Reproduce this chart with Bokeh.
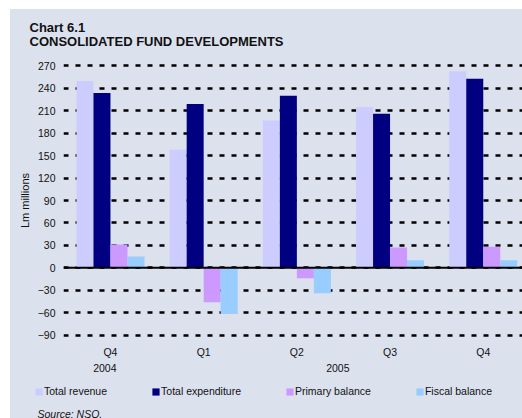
from bokeh.plotting import figure
from bokeh.models import (ColumnDataSource, Range1d, FixedTicker, Span, Title,
                          Legend, LegendItem, LinearAxis, Label)
from bokeh.transform import dodge
from bokeh.embed import file_html
from bokeh.resources import INLINE

# ---- data ----
quarters = ["Q4", "Q1", "Q2", "Q3", "Q4"]
years = ["2004", "2005"]
year_of_quarter = ["2004", "2005", "2005", "2005", "2005"]
total_revenue = [250, 158, 197, 215, 263]
total_expenditure = [234, 219, 230, 206, 253]
primary_balance = [31, -46, -14, 27, 28]
fiscal_balance = [15, -62, -34, 10, 10]
y_ticks = [-90, -60, -30, 0, 30, 60, 90, 120, 150, 180, 210, 240, 270]

series_names = ["Total revenue", "Total expenditure", "Primary balance", "Fiscal balance"]
series_cols = ["rev", "exp", "prim", "fisc"]
series_colors = ["#CCCCFF", "#000080", "#CC99FF", "#99CCFF"]

BG = "#DCE1EE"
FONT = "Liberation Sans"
TXT = "#111111"

idx = list(range(len(quarters)))
src = ColumnDataSource(dict(x=idx, rev=total_revenue, exp=total_expenditure,
                            prim=primary_balance, fisc=fiscal_balance))

# ---------------- main chart ----------------
p = figure(width=522, height=382, output_backend="svg", toolbar_location=None,
           x_range=Range1d(-0.504, 4.421), y_range=Range1d(-100, 280),
           min_border_left=63, min_border_right=0, min_border_top=58,
           min_border_bottom=40)
p.background_fill_color = BG
p.border_fill_color = BG
p.outline_line_color = None

bw = 0.1824
offsets = [-1.5 * bw, -0.5 * bw, 0.5 * bw, 1.5 * bw]
for col, color, off in zip(series_cols, series_colors, offsets):
    p.vbar(x=dodge("x", off), top=col, bottom=0, width=bw, source=src,
           fill_color=color, line_color=None)

p.add_layout(Span(location=0, dimension="width", line_color="black", line_width=2))

# axes
p.xaxis.ticker = FixedTicker(ticks=idx)
p.xaxis.major_label_overrides = {i: q for i, q in zip(idx, quarters)}
p.yaxis.ticker = FixedTicker(ticks=y_ticks)

# year axis under the quarter axis
year_pos = []
for yr in years:
    pos = [i for i, y in zip(idx, year_of_quarter) if y == yr]
    year_pos.append(round(sum(pos) / len(pos) - 0.06, 3))
year_axis = LinearAxis(ticker=FixedTicker(ticks=year_pos),
                       major_label_overrides={v: yr for v, yr in zip(year_pos, years)})
p.add_layout(year_axis, "below")

for ax in (p.xaxis[0], year_axis, p.yaxis[0]):
    ax.axis_line_color = None
    ax.major_tick_line_color = None
    ax.minor_tick_line_color = None
    ax.major_tick_out = 0
    ax.major_tick_in = 0
    ax.major_label_text_font = FONT
    ax.major_label_text_font_size = "10.5px"
    ax.major_label_text_color = TXT
p.xaxis[0].major_label_standoff = 3
year_axis.major_label_standoff = 3
p.yaxis.major_label_standoff = 8
p.yaxis.axis_label = "Lm millions"
p.yaxis.axis_label_text_font = FONT
p.yaxis.axis_label_text_font_size = "11px"
p.yaxis.axis_label_text_font_style = "normal"
p.yaxis.axis_label_text_color = TXT
p.yaxis.axis_label_standoff = 4

p.xgrid.grid_line_color = None
p.ygrid.grid_line_color = "black"
p.ygrid.grid_line_width = 2.6
p.ygrid.grid_line_dash = "5 7"

p.add_layout(Title(text="Chart 6.1\nCONSOLIDATED FUND DEVELOPMENTS", align="left",
                   offset=-34, standoff=20, text_font=FONT, text_font_size="13px",
                   text_font_style="bold", text_color=TXT, text_line_height=0.9),
             "above")

# ---------------- legend + source strip ----------------
p2 = figure(width=522, height=36, output_backend="svg", toolbar_location=None,
            x_range=Range1d(0, 1), y_range=Range1d(0, 1),
            x_axis_type=None, y_axis_type=None, min_border=0)
p2.background_fill_color = BG
p2.border_fill_color = BG
p2.outline_line_color = None
p2.grid.grid_line_color = None

legend_renderers = []
for col, color, off in zip(series_cols, series_colors, offsets):
    r = p2.vbar(x=dodge("x", off), top=col, bottom=0, width=bw, source=src,
                fill_color=color, line_color=None, visible=False)
    legend_renderers.append(r)

legend = Legend(items=[LegendItem(label=n, renderers=[r])
                       for n, r in zip(series_names, legend_renderers)],
                orientation="horizontal", location=(34, 21),
                glyph_width=9, glyph_height=9, label_height=9,
                label_standoff=1, spacing=44, padding=0, margin=0,
                border_line_color=None, background_fill_alpha=0,
                inactive_fill_alpha=0,
                label_text_font=FONT, label_text_font_size="10.5px",
                label_text_color=TXT)
p2.add_layout(legend, "center")

p2.add_layout(Label(x=37, y=5, x_units="screen", y_units="screen",
                    text="Source: NSO.", text_font=FONT, text_font_size="10.5px",
                    text_font_style="italic", text_baseline="alphabetic",
                    text_color=TXT))

# stack the two roots without a gap; thin white page edge as in the original
page_template = """
{% block postamble %}
<style>
html, body { margin: 0; padding: 0; line-height: 0; font-size: 0; background: #DCE1EE; }
body > * { vertical-align: top; }
body::before { content: ""; position: fixed; left: 0; top: 0; width: 100%; height: 9px;
               background: #FFFFFF; z-index: 100; pointer-events: none; }
body::after { content: ""; position: fixed; left: 0; top: 0; width: 10px; height: 100%;
              background: #FFFFFF; z-index: 100; pointer-events: none; }
</style>
{% endblock %}
"""

open("out.html", "w").write(file_html([p, p2], INLINE, template=page_template))
